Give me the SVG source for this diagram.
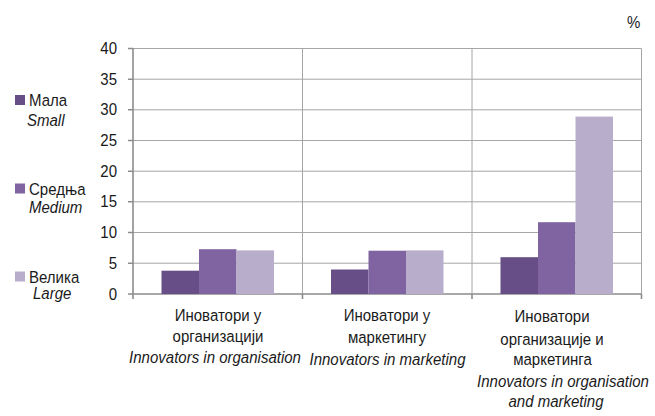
<svg xmlns="http://www.w3.org/2000/svg" width="655" height="416" viewBox="0 0 655 416">
<style>
text{font-family:"Liberation Sans",Arial,sans-serif;font-size:16.5px;fill:#1a1a1a}
.it{font-style:italic}
.ax{text-anchor:end}
.c{text-anchor:middle}
.grid{stroke:#a6a6a6;stroke-width:1;fill:none}
.axis{stroke:#8c8c8c;stroke-width:1.6;fill:none}
.s{fill:#674e86}
.m{fill:#8064a2}
.l{fill:#b8adcb}
</style>
<rect width="655" height="416" fill="#ffffff"/>
<g id="gridlines">
<path class="grid" d="M133 48.5H641.5M133 79.2H641.5M133 109.8H641.5M133 140.5H641.5M133 171.2H641.5M133 201.8H641.5M133 232.5H641.5M133 263.2H641.5"/>
<path class="grid" d="M302.5 48.5V294M472 48.5V294M641.5 48.5V294"/>
</g>
<g id="axes">
<path class="axis" d="M133 48.5V294M128 48.5H133M128 79.2H133M128 109.8H133M128 140.5H133M128 171.2H133M128 201.8H133M128 232.5H133M128 263.2H133M128 294H133"/>
<path class="axis" d="M133 294H641.5M133 294V299M302.5 294V299M472 294V299M641.5 294V299"/>
</g>
<g id="y-labels">
<text class="ax" transform="translate(117,54) scale(0.91,1)">40</text>
<text class="ax" transform="translate(117,84.7) scale(0.91,1)">35</text>
<text class="ax" transform="translate(117,115.3) scale(0.91,1)">30</text>
<text class="ax" transform="translate(117,146) scale(0.91,1)">25</text>
<text class="ax" transform="translate(117,176.7) scale(0.91,1)">20</text>
<text class="ax" transform="translate(117,207.3) scale(0.91,1)">15</text>
<text class="ax" transform="translate(117,238) scale(0.91,1)">10</text>
<text class="ax" transform="translate(117,268.7) scale(0.91,1)">5</text>
<text class="ax" transform="translate(117,299.5) scale(0.91,1)">0</text>
</g>
<text transform="translate(627,28) scale(0.91,1)">%</text>
<g id="bars">
<rect class="s" x="161.5" y="270.7" width="37.5" height="23.3"/>
<rect class="m" x="199" y="249.2" width="37.5" height="44.8"/>
<rect class="l" x="236.5" y="250.4" width="37.5" height="43.6"/>
<rect class="s" x="331" y="269.5" width="37.5" height="24.5"/>
<rect class="m" x="368.5" y="250.7" width="37.5" height="43.3"/>
<rect class="l" x="406" y="250.4" width="37.5" height="43.6"/>
<rect class="s" x="500.5" y="257.2" width="37.5" height="36.8"/>
<rect class="m" x="538" y="222.2" width="37.5" height="71.8"/>
<rect class="l" x="575.5" y="116.6" width="37.5" height="177.4"/>
</g>
<g id="category-1">
<text class="c" transform="translate(218,321) scale(0.91,1)">Иноватори у</text>
<text class="c" transform="translate(218,342) scale(0.91,1)">организацији</text>
<text class="c it" transform="translate(215,363) scale(0.91,1)">Innovators in organisation</text>
</g>
<g id="category-2">
<text class="c" transform="translate(387,321) scale(0.91,1)">Иноватори у</text>
<text class="c" transform="translate(387,343) scale(0.91,1)">маркетингу</text>
<text class="c it" transform="translate(387.5,365) scale(0.91,1)">Innovators in marketing</text>
</g>
<g id="category-3">
<text class="c" transform="translate(552,322) scale(0.91,1)">Иноватори</text>
<text class="c" transform="translate(552,345) scale(0.91,1)">организације и</text>
<text class="c" transform="translate(552.5,365) scale(0.91,1)">маркетинга</text>
<text class="c it" transform="translate(563,387) scale(0.91,1)">Innovators in organisation</text>
<text class="c it" transform="translate(556,407) scale(0.91,1)">and marketing</text>
</g>
<g id="legend-small">
<rect class="s" x="15" y="95" width="10" height="10"/>
<text transform="translate(29,106) scale(0.91,1)">Мала</text>
<text class="it" transform="translate(27,126) scale(0.91,1)">Small</text>
</g>
<g id="legend-medium">
<rect class="m" x="15" y="183.5" width="10" height="10"/>
<text transform="translate(29,195) scale(0.91,1)">Средња</text>
<text class="it" transform="translate(29,213) scale(0.91,1)">Medium</text>
</g>
<g id="legend-large">
<rect class="l" x="15" y="271.5" width="10" height="10"/>
<text transform="translate(29,282.5) scale(0.91,1)">Велика</text>
<text class="it" transform="translate(33,299) scale(0.91,1)">Large</text>
</g>
</svg>
